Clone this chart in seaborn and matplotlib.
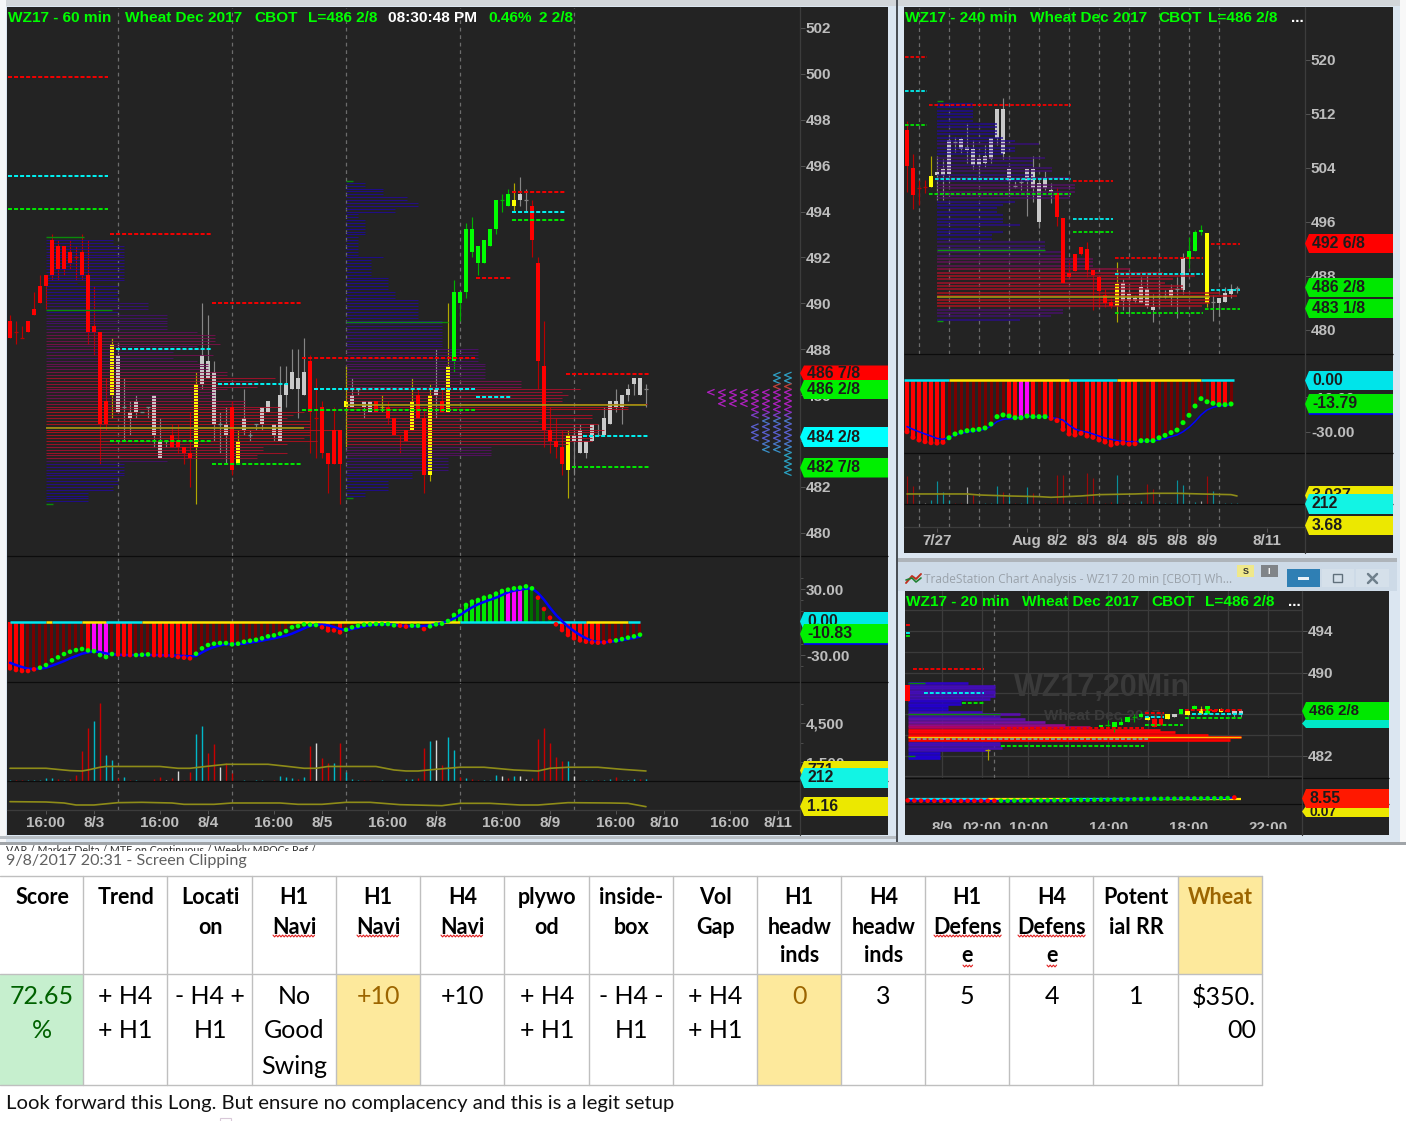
import numpy as np
import pandas as pd
import matplotlib
matplotlib.use("Agg")
import matplotlib.pyplot as plt
import matplotlib.path as mpath
from matplotlib.patches import Rectangle, Polygon
import seaborn as sns

W, H = 1406, 1121
DARK = "#232323"
sns.set_theme(style="dark", rc={"axes.facecolor": DARK, "axes.grid": False})
plt.rcParams["font.family"] = ["Liberation Sans", "DejaVu Sans"]

# ---------- 60 minute chart ----------
m_top = [489.25,488.75,488.5,489.25,489.75,490.75,491.25,492.75,492.5,492.5,492.25,492,492.25,491.25,489,488.75,485.75,488.25,487.75,485.5,485.25,485.75,485.25,485.5,486,484,484,484.25,484,483.75,483.5,486.5,487.75,487.5,487,484.75,484.75,485.5,484,485,484.25,484.75,485.5,485.75,484.75,486,486.5,487,486.75,487,487.5,485,485.5,483.5,484.5,484.5,485.75,
         486,486.25,485.75,485.75,485.75,485.5,485.5,485,484.25,484.5,485.75,486,485,486,486.25,485.75,487.25,490.5,490.5,493.25,493.25,492.5,492.75,493.25,494.5,494.5,494.75,494.5,494.75,494.5,494.25,491.75,487.25,484.5,484,483.75,484.25,484.25,484.5,484,484.75,484.25,485,485.75,485.75,486,486.25,486.75,486.75,486.25]
m_bot = [488.5,488.75,488.5,488.75,489.5,490,490.75,491.25,491.5,491.5,491.75,492,491.25,488.75,488.75,484.75,484.75,486,485.25,485.5,485,485.25,485.25,485.5,484.25,483.25,484,483.75,483.75,483.5,483.25,483.75,486.5,486.75,484.75,484.75,484.25,482.75,483,484.5,484.25,484.75,484.75,485.25,484.25,484,486,486.25,486.25,486,485.25,485,483.5,483,483,483,485.5,
         485.5,486.25,485.5,485.25,485.25,485.5,485,484.25,484.25,484,484.5,485,482.5,482.5,486,485.25,485.25,487.5,490,490.5,492.25,491.75,491.75,492.5,493.25,494.5,494.25,494.25,494.5,494.5,492.75,487.5,484.5,484,483.75,483,482.75,484,483.5,483.5,484,484.25,484.25,484.75,485.5,485.5,486,486.5,486,486.25]
m_high = [489.5,489.25,489,489.25,490.5,491.25,491.25,493,492.75,492.5,492.75,492.5,493,492.75,490.75,488.75,486.75,488.5,488.25,486.75,485.75,486,485.25,485.5,486,485,484,484.75,484.75,483.75,485.25,487,490,489.5,487.5,485.25,485.5,485.75,484.5,486.25,484.5,484.75,485.5,485.75,484.75,487.25,487.25,488,488,488.5,487.75,486.75,485.75,483.5,485.5,484.5,487.25,
          486.75,486.25,485.75,485.75,485.75,486,485.75,485,484.25,484.5,486.75,486.25,485.5,486.5,488,486.25,490,491,490.5,493.5,493.75,492.5,492.75,493.25,494.5,494.75,495,495.25,495.5,495,494.5,492,489.25,485.5,485,484.5,484.5,484.75,484.75,484,484.75,484.75,485.5,485.75,486.25,486,486.5,486.75,486.75,486.5]
m_low = [488.5,488.25,488.5,488.75,489.5,490,489.75,491,491,491.25,491.5,491,491,488.25,487.75,483,484.5,485,485.25,484,484.25,485,485.25,485,483.75,483.25,483.75,483.75,483.5,483,482,481.25,486.25,486.75,484,483.5,483,482.5,483,484.25,484,484.5,484.5,485.25,484,484,485.5,486.25,485,486,483.5,483.25,483.25,481.75,483,481.25,483.75,
         485.5,486,485,485.25,485.25,485.25,484.75,484.25,483.5,484,484.5,485,481.75,482.25,485,485.25,485.25,487,489.25,490.25,492,491.25,491.75,492.5,493,494,494.25,494,494.25,494,492,486.25,483.75,483.5,483.25,482.5,481.5,482.5,483.5,483.25,484,484.25,484.25,484.75,485.25,484.75,485.75,486,486,485.5]
m_kind = list("r"*17 + "y" + "w"*9 + "r"*4 + "y" + "w"*5 + "r" + "y" + "w"*11 + "r"*6 + "y" +
              "wwww" + "r" + "y" + "rrrr" + "y" + "rr" + "y" + "w" + "r" + "y" + "g"*10 + "y" + "ww" + "r"*6 + "y" + "w"*13)

p1_len = [11.1,11.1,13,13,13,13,13,13,13,13,13,13,13,13,13,5.1,12.05,12.05,12.05,12.05,12.05,12.05,17.05,17.05,17.05,12.05,20.1,20.1,20.1,20.1,20.1,20.1,25.1,28.1,28.1,28.1,29,25.1,27,21.2,27.9,21.2,25.1,27,27,27,30.1,30.1,38.2,35.1,35.1,35.1,30.1,28.1,28.1,28.1,33.2,33.2,39,35.7,43,41.1,40.1,44,44,44,49,44,44,43,45.1,40.1,36.2,36.2,40.1,35.1,35.1,20.1,13,13,13,13,13,12.05,12.05,12.05,11.1,11.1,7.05,7.05,7.05,7.05]
p2_len = [3.2,3.2,6.1,6.1,6.1,10.1,10.1,12.05,12.05,8.2,8.2,2.05,2.05,3.2,3.2,3.2,3.2,3.2,3.2,2.05,2.05,2.05,2.05,2.05,2.05,2.05,6.1,4.1,4.1,4.1,4.1,4.1,4.1,7.05,7.05,7.05,7.05,7.05,8.2,8.2,8.2,12.05,12.05,12.05,12.05,12.05,12.05,12.05,16.05,16.05,16.05,16.05,16.05,16.05,16.05,16.05,16.05,16.05,22,22,22,22,22,23.2,23.2,23.2,23.2,23.2,23.2,29.2,29.2,29.2,39,36.05,37.05,36.05,36.05,50.1,47.05,47.05,34,41.05,41.05,32.05,42.05,41.05,43.05,42.05,43.05,41.05,41.05,37.05,24.2,24.2,24.2,24.2,17.05,17.05,17.05,17.05,17.05,11.05,11.05,11.05,7.05,7.05,7.05,7.05,3.2,3.2]

m_lv_price = [499.86,495.55,494.11,493,488,484,490,486.5,483,487.6,486.25,485.35,491.1,485.9,494.85,494,493.65,486.9,484.2,482.85]
m_lv_start = [-.33,-.33,-.33,16.67,17.67,16.67,33.67,34.67,33.67,48.67,50.67,48.67,77.67,77.67,83.67,83.67,83.67,92.67,95.5,93.67]
m_lv_end = [16.33,16.33,16.33,33.5,33.5,33.5,48.5,46.33,48.5,77.5,77.5,77.5,83.5,83.5,92.5,92.5,92.5,106.5,106.5,106.5]
m_lv_kind = list("rcgrcgrcgrcgrcrcgrcg")

m_hist = [-42.1,-43.6,-44.5,-44.5,-43.0,-41.5,-39.1,-34.8,-32.1,-29.1,-27.0,-25.5,-24.5,-25.8,-26.4,-30.0,-31.8,-29.1,-29.4,-29.7,-30,-30,-29.7,-29.4,-30,-30.3,-30.3,-30.6,-31.8,-32.4,-33.0,-28.8,-23.9,-20.9,-19.7,-19.1,-19.1,-20.3,-19.7,-17.9,-17.0,-16.1,-14.8,-13.0,-12.1,-10.6,-8.2,-4.8,-3.6,-2.1,-2.4,-2.7,-4.8,-7.6,-7.6,-9.4,-7.0,-4.8,-3.3,-2.4,-2.1,-1.8,-1.8,-1.8,-3.0,
          -3.3,-4.2,-3.3,-3.3,-6.4,-3.9,-2.1,-1.5,0.9,6.4,10,15.5,18.5,20,22.1,23.3,25.8,28.2,29.4,30.6,31.2,32.4,30.6,22.1,11.8,3.9,-2.1,-7.3,-11.8,-14.8,-16.7,-17.9,-18.5,-18.8,-18.5,-17.3,-16.7,-15.5,-14.2,-13,-11.5]
m_avg = [-37,-39.1,-40.9,-42.4,-42.7,-42.4,-41.5,-39.7,-37.6,-35.5,-33,-30.9,-28.8,-27.6,-26.7,-27.3,-28.5,-29.4,-29.7,-30,-30,-30,-30,-30,-30,-30,-30.3,-30.3,-30.6,-30.9,-31.2,-30.9,-27.6,-24.8,-22.7,-21.2,-20.3,-20,-20,-19.7,-18.8,-17.9,-17,-15.8,-14.8,-13.6,-12.4,-10.6,-8.2,-5.8,-3.6,-2.4,-2.4,-3,-4.5,-6.4,-7.3,-6.4,-5.2,-3.9,-3,-2.4,-2.1,-2.1,-2.4,
         -3.3,-3.6,-3.9,-3.9,-3.6,-3,-2.1,-.9,.9,3.3,6.4,10,13.3,16.1,18.2,20.3,22.1,24.5,27,28.5,29.4,30.3,30.6,26.4,20.3,13,6.4,.9,-4.2,-8.2,-11.8,-14.8,-17.3,-17.9,-18.5,-17.9,-17.3,-16.4,-15.5,-14.5,-13.3]
m_hist_kind = list("RRR" + "D"*10 + "R" + "MMM" + "D" + "RRR" + "DDD" + "R"*7 + "D"*6 + "R" + "D"*14 + "RR" + "D" + "R" + "D"*18 + "G"*9 + "MMM" + "G" + "KKKK" + "R"*8 + "D"*7)
m_dot_kind = list("r"*5 + "g"*13 + "rrr" + "g"*3 + "r"*7 + "g"*21 + "r"*4 + "g"*9 + "rr" + "gg" + "r" + "g"*18 + "r"*13 + "g"*5)
m_zero_seg = [(0,6,"c"),(6,7,"y"),(7,12,"c"),(12,16,"y"),(16,22,"c"),(22,75,"y"),(75,96,"c"),(96,103,"y"),(103,105,"c")]

m_vol = [104,104,104,104,104,104,259,259,155,104,181,492,2357,4118,4714,6112,2046,1658,285,311,104,78,52,52,181,311,104,259,803,104,725,3678,4299,2227,2901,1140,1450,622,52,104,52,104,104,52,104,414,363,259,207,337,2745,2953,1813,1450,1450,2953,699,207,78,104,104,52,104,52,52,104,155,155,259,2590,3160,3212,1295,3471,2435,363,259,207,104,104,104,466,414,259,414,414,207,259,3315,4144,3004,1865,1554,1606,414,104,104,104,104,104,207,311,104,104,155,155,207]
m_vol_kind = list("crrccccc" "rc" "rrrrcrccrc" "rcrrrrwrwr" "rccrrwrrcc" "rccrrcccrc" "rwrrcrcccr" "rrcrr" "rccrrcwrcc" "rcrrcccwrc" "wwrrrrrrcw" "rccrccrccc" "rc")
m_vol_ma_x = [0,6,10,12,13,15,16,25,28,30,33,36,43,46,49,51,53,61,64,66,68,71,75,79,84,88,90,93,98,102,106]
m_vol_ma_y = [1010,1010,830,800,880,1090,1150,1150,1010,1010,1170,1320,1320,1170,1010,1010,1150,1150,880,800,800,932,1090,1090,880,800,1010,1090,1090,930,800]
m_ratio_x = [0,6,9,11,14,18,22,27,29,34,37,45,48,52,56,60,65,72,75,80,85,88,93,100,103,106]
m_ratio_y = [1.40,1.38,1.32,1.2,1.2,1.34,1.36,1.32,1.24,1.24,1.32,1.32,1.24,1.24,1.36,1.36,1.22,1.16,1.3,1.3,1.2,1.2,1.34,1.32,1.3,1.1]

tpo_price = [486.875,486.625,486.375,486.125,485.875,485.625,485.375,485.125,484.875,484.625,484.375,484.125,483.875,483.625,483.375,483.125,482.875,482.625]
tpo_count = [2,2,2,8,7,7,4,4,3,4,4,4,3,3,1,1,1,1]
tpo_hue = ["#2f9fc4","#2f9fc4","#c0403a","#b020c0","#b020c0","#b020c0","#a020c0","#7d40c8","#4a78c8","#5a60d0","#5a60d0","#5a60d0","#4a78c8","#3a90c8","#2aa0c0","#2aa0c0","#2aa0c0","#2aa0c0"]
m_time_pos = [6,14,25,33,44,52,63,71,82,90,101,109,120,128]
m_time_lab = ["16:00","8/3","16:00","8/4","16:00","8/5","16:00","8/8","16:00","8/9","16:00","8/10","16:00","8/11"]
m_days = [18,37,56,75,94]

# ---------- 240 minute chart ----------
r_top = [509.6,504,501.1,501.2,502.8,503.4,503.85,508.15,507.9,508.25,507.1,506.8,505.4,505.8,508.5,512.8,512.8,503.8,501.4,501.9,503.8,503.8,501.7,502.5,500.7,500.25,496.55,488.4,491.25,492.25,492,488.9,487.8,485.2,484.1,486.8,487,485.4,484.8,486.3,486,483.45,485,485,485.9,486.1,490.6,491.75,494.5,494.8,494.3,484.1,484.7,485.5,486,486.2]
r_bot = [504.3,500,501.1,501.2,501.2,503,503,503.06,507.9,506.8,506.7,504.45,504.45,504.8,505.4,508.5,506,502.1,501.4,501.9,502.1,501.1,495.95,501.1,500.5,496.8,487,487.9,488.8,491.25,488.9,488.2,485.8,483.95,483.55,483.55,484.35,484.35,484.3,484,483.55,483,485,485,484.9,486.1,485.9,490.55,491.75,494.5,484,484.1,484.05,484.2,485.4,486.2]
r_high = [511,506,502.2,502.2,505.8,505.8,505.4,508.9,508.6,508.6,510.6,508.15,506.2,507.4,508.5,512.8,514.3,503.8,502.1,502.5,503.8,505.8,502.5,503.5,501.7,501.2,496.55,490.4,491.25,492.25,493,488.9,487.8,486,484.8,490.1,487.5,486.4,485.2,487.9,488.15,485.4,487.4,485.9,486.8,487.9,491.35,493.7,494.8,495.55,494.3,485.2,484.7,486.4,486.8,486.5]
r_low = [500.5,497.9,498.5,500.25,501.2,499.2,499.2,501.7,506.3,506.2,504.7,503.8,502.6,504.1,504.8,507.4,505.4,500.15,501.1,500.7,496.9,499,495.05,500.8,498.75,495.45,487,487.9,488.8,491.1,487.9,483,483.45,483.35,483.2,481.2,483,482.5,484,484,483.2,481.2,483.45,484.8,483.55,481.7,485.3,489.15,491.75,494.1,483.45,481.4,482,484.2,484.7,485.55]
r_kind = list("rrrr" "y" + "w"*20 + "r"*10 + "y" + "w"*11 + "ggg" + "y" + "w"*5)
r_lv_price = [520.4,515.4,510.4,513.3,502.4,500.2,502.1,496.4,494.5,490.7,488.35,482.45,492.75,485.9,483.15]
r_lv_start = [-.33,-.33,-.33,3.67,4.67,3.67,27.67,27.67,27.67,34.67,34.67,34.67,50.67,50.67,49.67]
r_lv_end = [3.4,3.4,3.4,27.4,27.4,27.4,34.4,34.4,34.4,49.4,49.4,49.4,55.5,55.5,55.5]
r_lv_kind = list("rcg" "rcg" "rcg" "rcg" "rcg")
p3_len = [6.05,6.05,6.05,6.05,6.05,6.05,10.05,10.05,10.05,10.05,11.05,13,17.05,13,13,11.05,18.05,16.05,16.05,19.1,19.1,16.05,22.2,16.05,23,23,23,22.2,22.2,13,11.05,10.05,10.05,11.05,11.05,11.05,13.9,7.2,11.05,9.1,9.1,18.05,18.05,18.05,21.05,21.05,26.05,26.05,26.05,32.2,37.7,43,39.4,38,41.05,41.05,47.2,50,45.5,45.5,44.1,21.05,21.05,19,13.9]
r_hist = [-30,-33.3,-34.8,-35.8,-36.4,-36.6,-36.2,-33.5,-31.3,-30.2,-29.4,-29,-28.6,-27.8,-25.5,-21.2,-20.2,-20.8,-21.8,-21.8,-20.8,-21.2,-21.2,-21.2,-22.2,-23.5,-28.6,-31.3,-31.9,-30.9,-32.5,-33.3,-34.8,-36,-37.7,-36.8,-36.6,-37.2,-37,-35.2,-35.2,-35.2,-33.5,-32.1,-30.5,-29,-24.7,-20.4,-15,-10.7,-12.5,-13.4,-14.2,-14.2,-13.8]
r_avg = [-27,-28.6,-30,-31.3,-32.5,-33.9,-34.4,-33.3,-31.9,-30.9,-30.4,-29.8,-29.2,-28.6,-26.7,-24.1,-22.8,-22.4,-22.2,-21.6,-21.2,-21.2,-21.2,-21.2,-21.8,-22.2,-23.2,-26.1,-28.4,-29.6,-30.2,-31.3,-32.5,-33.7,-34.4,-35.2,-35.6,-35.8,-35.8,-35.8,-35.6,-35.4,-34.8,-33.9,-32.9,-31.9,-30,-27.4,-24.1,-20.2,-17.3,-15.8,-15,-14.8,-14.4]
r_hist_kind = list("R"*7 + "D"*10 + "RR" + "MM" + "R" + "D" + "RR" + "D" + "RRR" + "D" + "R"*5 + "D" + "RRR" + "DD" + "R" + "D"*9 + "RRR" + "D")
r_dot_kind = list("r"*7 + "g"*17 + "r"*15 + "g"*16)
r_zero_seg = [(-.5,7,"c"),(7,27,"y"),(27,35,"c"),(35,49,"y"),(49,54.5,"c")]
r_vol = [3400,2200,200,200,520,2800,1480,520,200,200,2120,1080,200,200,200,2200,1480,1000,120,200,2040,1320,200,120,200,3480,3480,200,200,200,3720,3120,200,120,320,3520,200,200,120,360,2440,1800,320,120,200,2920,2320,200,320,400,3400,1560,200,200,200,120]
r_vol_kind = list("rrcwccccrr" "wrccccrcrc" "crcrrrrccc" "rrcrrcrwcc" "rrcccccccw" "rccccc")
r_ma_x = [0,10,12,17,22,24,29,32,38,41,45,49,54,55]
r_ma_y = [1240,1240,1120,1000,920,840,1000,1160,1240,1320,1320,1240,1160,1000]
r_time_pos = [5,20,25,30,35,40,45,50,60]
r_time_lab = ["7/27","Aug","8/2","8/3","8/4","8/5","8/8","8/9","8/11"]
r_days = [2,7,12,17,22,27,32,37,42,47,52]

# ---------- 20 minute chart ----------
t_x = [-29,-17,0,1,2,3,4,5,6,7,8,9,10,11,12,13,14,15,16,17,18,19,20,21]
t_top = [488.8,482.5,485,485,485.2,485.2,485.7,485.7,486,485.7,485.5,485.5,486,486,486.5,486.3,486.8,486.5,486.75,486.4,486.5,486.4,486.3,486.3]
t_bot = [487.25,482.5,484.8,485,484.8,485,485.2,485.7,485.7,485.4,484.8,485,485.5,485.7,486,485.9,486.5,486,486,486.2,486.2,486.2,486,486]
t_high = [488.8,482.6,485,485.4,485.2,485.6,485.7,486,486.2,485.7,486,486,486,486,486.5,486.4,486.9,486.8,486.75,486.4,486.6,486.4,486.3,486.5]
t_low = [487.25,481.6,484.8,484.8,484.3,485,485.2,485.2,485.7,485.4,484.8,485,485.5,485.7,486,485.9,486.5,486,486,486.2,486.2,486.2,485.6,485.7]
t_kind = list("ry" "ggggggg" "yrrywgygygryrww")
p4_price = [489,488.75,488.5,488.25,488,487.75,487.5,487.25,487,486.75,486.5,486.25,486,485.75,485.5,485.25,485,484.75,484.5,484.25,484,483.75,483.5,483.25,483,482.75,482.5,482.25,482,481.75]
p4_end_px = [968,995,995,995,995,995,990,961,961,948,948,982,1020,1000,1025,1045,1065,1090,1160,1175,1208,1241,1230,1000,1000,1002,990,940,940,940]
t_lv_price = [490.37,488,487.1,484.66,483.6,482.93,494.6,493.8,493.5,486.4,485.6,486.0,486.07,485.75,485.0]
t_lv_start = [-28.2,-26.5,-20.8,-15,-28.5,-15,-29.3,-29.3,-29.3,12.6,12.6,13.6,6.6,6.6,6.6]
t_lv_end = [-17.6,-17.6,-17.6,6.5,7,6.5,-28.7,-28.7,-28.7,21.3,21.3,21.3,9.4,9.4,12.3]
t_lv_kind = list("rcgrwgrcg" "rgc" "rcg")
t_dots = [-8,-9,-9.5,-10,-10,-10.5,-10.5,-10.5,-10.5,-10,-10,-10,-10,-10,-9.5,-9.5,-9,-9,-8.5,-8,-8,-7.5,-7,-7,-6.5,-6,-6,-5.5,-5,-4.5,-4,-3.5,-3,-2,-1.5,-1,0,1,1,2,2,2.5,3,3,3,3.5,4,4,5,8.55]
t_dot_kind = list("r"*14 + "g"*35 + "r")
t_zero_seg = [(-29,-17,"c"),(-17,-5,"y"),(-5,9,"c"),(9,21,"y")]
t_time_pos = [-23.9,-17.9,-10.9,1.1,13.1,25]
t_time_lab = ["8/9","02:00","10:00","14:00","18:00","22:00"]

# ---------- notes table ----------
col_edges = [0,82.5,167,251.5,335.5,419.5,503.5,588.5,672.5,756.5,840.5,924.5,1008.5,1093,1177.5,1261.5]
headers = [["Score"],["Trend"],["Locati","on"],["H1","Navi"],["H1","Navi"],["H4","Navi"],["plywo","od"],["inside-","box"],["Vol","Gap"],["H1","headw","inds"],["H4","headw","inds"],["H1","Defens","e"],["H4","Defens","e"],["Potent","ial RR"],["Wheat"]]
body = [["72.65","%"],["+ H4","+ H1"],["- H4 +","H1"],["No","Good","Swing"],["+10"],["+10"],["+ H4","+ H1"],["- H4 -","H1"],["+ H4","+ H1"],["0"],["3"],["5"],["4"],["1"],["$350.","00"]]

CANDLE = {"r": "#ff0000", "y": "#ffff00", "w": "#c9c9c9", "g": "#00ff00"}
WICK = {"r": "#b80000", "y": "#b0a800", "w": "#858585", "g": "#00b000"}
LEVEL = {"r": "#f00000", "c": "#00eeee", "g": "#00e400", "w": "#909090"}
HIST = {"R": "#ff0000", "D": "#780000", "M": "#ff00ff", "G": "#00e800", "K": "#006c00"}
VOLC = {"r": "#c80000", "c": "#00b8c8", "w": "#d8d8d8"}
ZERO = {"c": "#00e8f0", "y": "#ffe800"}
OLIVE = "#8e8c18"
TICK = "#bdbdbd"
prof_pal = sns.blend_palette(["#1c0a96","#1e0a94","#260c90","#3e1072","#5c1060","#8a1040","#a8102c","#b01020","#b81018"], 101)
vivid_pal = sns.blend_palette(["#1800d8","#2400c8","#4a10b0","#7a10a0","#c00050","#ff0010","#ff0000","#ff0000"], 101)

fig = plt.figure(figsize=(W/100, H/100), dpi=100, facecolor="white")
bg = fig.add_axes([0, 0, 1, 1], zorder=0)
bg.set_xlim(0, W); bg.set_ylim(H, 0); bg.axis("off")
fg = fig.add_axes([0, 0, 1, 1], zorder=10)
fg.set_xlim(0, W); fg.set_ylim(H, 0); fg.axis("off"); fg.patch.set_alpha(0)

def rect(a, x0, y0, x1, y1, c, **kw):
    a.add_patch(Rectangle((x0, y0), x1-x0, y1-y0, facecolor=c, edgecolor="none", **kw))

rect(bg, 0, 0, W, 845, "#dbe6f1")
rect(bg, 0, 0, W, 6, "#d2d6da")
rect(bg, 0, 0, 6, 845, "#f4f6f8")
rect(bg, 1400, 0, W, 845, "#f8f8f8")
rect(bg, 7, 7, 888, 835, DARK)
rect(bg, 904, 7, 1393, 553, DARK)
rect(bg, 905, 591, 1389, 835, DARK)
rect(bg, 896, 0, 898, 845, "#4a4f55")
rect(bg, 898, 562, 1397, 591, "#cddae7")
rect(bg, 898, 558, 1397, 562, "#aeb4ba")
rect(bg, 0, 836, 896, 839, "#b8bec4")
rect(bg, 0, 842, W, 845, "#a0a4a8")

def axes_at(x0, y0, x1, y1, px0, step, ylim):
    ax = fig.add_axes([x0/W, 1-y1/H, (x1-x0)/W, (y1-y0)/H], zorder=2)
    ax.set_facecolor(DARK)
    for s in ax.spines.values():
        s.set_visible(False)
    ax.set_xlim((x0-px0)/step, (x1-px0)/step)
    ax.set_ylim(*ylim)
    ax.set_xticks([]); ax.set_yticks([])
    return ax

def right_ticks(ax, pos, labs, minor=None):
    ax.yaxis.tick_right()
    ax.set_yticks(pos); ax.set_yticklabels(labs, fontweight="bold", color=TICK, fontsize=11)
    ax.tick_params(axis="y", which="major", length=3.5, width=.7, color="#555555", pad=.8, right=True, labelright=True)
    if minor is not None:
        ax.set_yticks(minor, minor=True)
        ax.tick_params(axis="y", which="minor", length=2, width=.6, color="#555555", right=True)

def candles(ax, x, top, bot, high, low, kind, w=.78):
    x, top, bot, high, low = map(np.asarray, (x, top, bot, high, low))
    k = np.asarray(kind)
    ax.vlines(x, low, high, colors=[WICK[c] for c in kind], lw=.85, zorder=2)
    under = (k == "w") | (k == "y")
    # grey and yellow bars show the profile stripes across them, red and green stay solid
    ax.bar(x[under], (top-bot)[under], bottom=bot[under], width=w, color=[CANDLE[c] for c in k[under]], zorder=3, linewidth=0)
    ax.bar(x[~under], (top-bot)[~under], bottom=bot[~under], width=w, color=[CANDLE[c] for c in k[~under]], zorder=4.5, linewidth=0)
    flat = top == bot
    ax.hlines(top[flat], x[flat]-w/2, x[flat]+w/2, colors=[WICK[c] for c in k[flat]], lw=.9, zorder=4.5)

def profile(ax, start, price, length, pal, lw=.75, alpha=.88, zorder=4):
    length = np.asarray(length, float)
    c = [pal[int(100*v/length.max())] for v in length]
    ax.hlines(price, start, start+length, colors=c, lw=lw, alpha=alpha, zorder=zorder)

def levels(ax, price, start, end, kind, lw=1.45, z=5):
    ax.hlines(price, start, end, colors=[LEVEL[k] for k in kind], lw=lw, linestyles=[(0, (2, 1))], zorder=z)

def indicator(ax, hist, avg, hkind, dkind, zero, lw=1.8, dot=11):
    idx = np.arange(len(hist))
    widths = [.5 if k in "DK" else .68 for k in hkind]
    ax.bar(idx, hist, width=widths, color=[HIST[k] for k in hkind], linewidth=0, zorder=2)
    for a, b, k in zero:
        ax.hlines(0, a, b, colors=ZERO[k], lw=1.8, zorder=3)
    df = pd.DataFrame({"i": idx, "v": avg})
    sns.lineplot(data=df, x="i", y="v", color="#0000ff", lw=lw, ax=ax, legend=False, zorder=4)
    dd = pd.DataFrame({"i": idx, "v": hist, "k": dkind})
    sns.scatterplot(data=dd, x="i", y="v", hue="k", palette={"r": "#ff0000", "g": "#00ff00"}, s=dot,
                    linewidth=0, ax=ax, legend=False, zorder=5)
    ax.set_xlabel(""); ax.set_ylabel("")

def vlines_days(ax, days):
    for d in days:
        ax.axvline(d, color="#6c6c6c", lw=.9, ls=(0, (3, 3)), zorder=1)

# ---------- main panes ----------
a1 = axes_at(8, 8, 800, 556, 10, 6, (478.99, 502.87))
candles(a1, np.arange(len(m_top)), m_top, m_bot, m_high, m_low, m_kind)
profile(a1, 6, 492.75-.125*np.arange(len(p1_len)), p1_len, prof_pal)
profile(a1, 56, 495.25-.125*np.arange(len(p2_len)), p2_len, prof_pal)
levels(a1, m_lv_price, m_lv_start, m_lv_end, m_lv_kind)
a1.hlines([489.71, 492.88, 481.24, 489.17, 495.35, 481.5], [6, 6, 6, 56, 56, 56], [17.05, 12.3, 7.1, 73, 57.1, 57.1], colors="#0a8a0a", lw=1, zorder=5)
a1.hlines([484.55, 485.55], [6, 56], [49, 106], colors="#a6a412", lw=1.1, zorder=5)
vlines_days(a1, m_days)
chev = mpath.Path([(1, .82), (-1, 0), (1, -.82)], [1, 2, 2])
for pr, n, col in zip(tpo_price, tpo_count, tpo_hue):
    cols = 129.67 - 1.833*np.arange(n)
    a1.scatter(cols, np.full(n, pr), marker=chev, s=26, facecolors="none", edgecolors=col, linewidths=.9, zorder=6)
right_ticks(a1, np.arange(480, 503, 2), [str(v) for v in range(480, 503, 2)])

a2 = axes_at(8, 556, 800, 682, 10, 6, (-54.5, 60))
indicator(a2, m_hist, m_avg, m_hist_kind, m_dot_kind, m_zero_seg)
a2.set_xlim(-.333, 131.67); a2.set_ylim(-54.5, 60)
vlines_days(a2, m_days)
right_ticks(a2, [-30, 0, 30], ["-30.00", "0.00", "30.00"], minor=[-40, -20, -10, 10, 20, 40])

a3 = axes_at(8, 682, 800, 781.3, 10, 6, (0, 7705))
a3.vlines(np.arange(len(m_vol)), 0, m_vol, colors=[VOLC[k] for k in m_vol_kind], lw=1.0, zorder=2)
sns.lineplot(x=m_vol_ma_x, y=m_vol_ma_y, color=OLIVE, lw=1.2, ax=a3, legend=False, zorder=3)
a3.set_xlim(-.333, 131.67); a3.set_ylim(0, 7705)
vlines_days(a3, m_days)
right_ticks(a3, [1500, 4500], ["1,500", "4,500"], minor=[3000, 6000])

a4 = axes_at(8, 781.3, 800, 810, 10, 6, (.9, 2.62))
sns.lineplot(x=m_ratio_x, y=m_ratio_y, color=OLIVE, lw=1.2, ax=a4, legend=False, zorder=3)
a4.set_xlim(-.333, 131.67); a4.set_ylim(.9, 2.62)
vlines_days(a4, m_days)
a4.set_xticks(m_time_pos); a4.set_xticklabels(m_time_lab, fontweight="bold", color=TICK, fontsize=11)
a4.tick_params(axis="x", length=3, width=.7, color="#555555", pad=1.5, bottom=True)

# ---------- 240 minute panes ----------
b1 = axes_at(904, 8, 1305, 354, 907, 6, (476.44, 527.7))
candles(b1, np.arange(len(r_top)), r_top, r_bot, r_high, r_low, r_kind)
profile(b1, 5, 513.5-.5*np.arange(len(p3_len)), p3_len, prof_pal, lw=1.3, alpha=.8)
levels(b1, r_lv_price, r_lv_start, r_lv_end, r_lv_kind, lw=1.3)
b1.hlines([513.98, 491.85, 481.33], 5, [6, 23, 6], colors="#0a9a0a", lw=1, zorder=5)
b1.hlines(484.9, 5, 50.5, colors="#a6a412", lw=1.1, zorder=5)
vlines_days(b1, r_days)
right_ticks(b1, [480, 488, 496, 504, 512, 520], ["480", "488", "496", "504", "512", "520"])

b2 = axes_at(904, 354, 1305, 453, 907, 6, (-42.4, 15.35))
indicator(b2, r_hist, r_avg, r_hist_kind, r_dot_kind, r_zero_seg, lw=1.1, dot=13)
b2.set_xlim(-.5, 66.33); b2.set_ylim(-42.4, 15.35)
right_ticks(b2, [-30, -10], ["-30.00", "-10.00"])

b3 = axes_at(904, 453, 1305, 504.3, 907, 6, (0, 6156))
b3.vlines(np.arange(len(r_vol)), 0, r_vol, colors=[VOLC[k] for k in r_vol_kind], lw=.85, alpha=.72, zorder=2)
sns.lineplot(x=r_ma_x, y=r_ma_y, color=OLIVE, lw=1.2, ax=b3, legend=False, zorder=3)
b3.set_xlim(-.5, 66.33); b3.set_ylim(0, 6156)
vlines_days(b3, r_days)

b4 = axes_at(904, 504.3, 1305, 527, 907, 6, (0, 1))
vlines_days(b4, r_days)
b5 = axes_at(904, 527, 1305, 527.5, 907, 6, (0, 1))
b5.set_xticks(r_time_pos); b5.set_xticklabels(r_time_lab, fontweight="bold", color=TICK, fontsize=11)
b5.tick_params(axis="x", length=3, width=.7, color="#555555", pad=2, bottom=True)

# ---------- 20 minute panes ----------
c1 = axes_at(905, 591, 1302, 777.7, 1101, 6.667, (479.88, 497.85))
c1.grid(False)
for p in range(480, 498, 2):
    c1.axhline(p, color="#3b3b3b", lw=.9, zorder=0)
for k in [-23.9, -17.9, -11, -5, 1, 7, 13, 19, 25]:
    c1.axvline(k, color="#3b3b3b", lw=.9, zorder=0)
c1.axvline(-16, color="#6c6c6c", lw=.9, ls=(0, (3, 3)), zorder=1)
c1.text(.2, 488.5, "WZ17,20Min", color="#3a3a3a", fontsize=22, fontweight="bold", ha="center", va="center", zorder=1)
c1.text(.2, 485.8, "Wheat Dec 2017", color="#3a3a3a", fontsize=11, fontweight="bold", ha="center", va="center", zorder=1)
px2k = lambda v: (np.asarray(v, float)-1101)/6.667
profile(c1, px2k(908), p4_price, px2k(p4_end_px)-px2k(908), vivid_pal, lw=1.9, alpha=1, zorder=2)
c1.hlines(483.75, px2k(908), px2k(1241), colors="#ffc000", lw=1.0, zorder=3)
candles(c1, t_x, t_top, t_bot, t_high, t_low, t_kind, w=.72)
levels(c1, t_lv_price, t_lv_start, t_lv_end, t_lv_kind, lw=1.4)
c1.hlines([489.0, 486, 482.0], px2k(908), px2k([925, 1000, 915]), colors="#0a8a0a", lw=1, zorder=4)
c1.yaxis.tick_right()
right_ticks(c1, [482, 490, 494], ["482", "490", "494"])

c2 = axes_at(905, 777.7, 1302, 804, 1101, 6.667, (-28.5, 121))
t_k = np.arange(len(t_dots))-29
for a, b, k in t_zero_seg:
    c2.hlines(0, a, b, colors=ZERO[k], lw=1.6, zorder=2)
sns.lineplot(x=t_k, y=t_dots, color="#0000ff", lw=1.4, ax=c2, legend=False, zorder=3)
sns.scatterplot(x=t_k, y=t_dots, hue=t_dot_kind, palette={"r": "#ff0000", "g": "#00e800"}, s=11, linewidth=0, ax=c2, legend=False, zorder=4)
c2.set_xlim(-29.4, 30.15); c2.set_ylim(-28.5, 121)
c2.set_xticks([]); c2.set_yticks([])

c3 = axes_at(905, 804, 1302, 835, 1101, 6.667, (835, 804))
for k, lab in zip(t_time_pos, t_time_lab):
    c3.text(k, 828.5, lab, color=TICK, fontsize=11, fontweight="bold", ha="center", va="center", clip_on=True)
c3.add_patch(Rectangle((-30, 829), 61, 7, facecolor=DARK, edgecolor="none", zorder=5))

# ---------- separators ----------
for x0, x1, y in [(7, 888, 556), (7, 888, 682), (7, 888, 781.3), (904, 1393, 354), (904, 1393, 453), (904, 1393, 504.3), (905, 1389, 777.7), (905, 1389, 804)]:
    fg.plot([x0, x1], [y, y], color="#0c0c0c", lw=.9, solid_capstyle="butt")
for x0, x1, y in [(7, 800, 810), (904, 1305, 527)]:
    fg.plot([x0, x1], [y, y], color="#3c3c3c", lw=.9)
for x, y0, y1 in [(800, 7, 835), (1305, 7, 553), (1302, 591, 835)]:
    fg.plot([x, x], [y0, y1], color="#3c3c3c", lw=.9)

# ---------- value flags ----------
flag_z = [20.0]
def flag(x0, x1, y0, y1, col, txt, edge=None, size=11.4):
    z = flag_z[0]
    flag_z[0] += 1
    yc = (y0+y1)/2
    fg.add_patch(Polygon([(x0, yc), (x0+4, y0), (x1, y0), (x1, y1), (x0+4, y1)], closed=True, facecolor=col, edgecolor="none", zorder=z))
    if edge:
        fg.plot([x0+4, x1], [y1, y1], color=edge, lw=1.2, solid_capstyle="butt", zorder=z+.2)
    if txt:
        fg.text(x0+7, yc, txt, color="#1c1c1c", fontsize=size, fontweight="bold", va="center", ha="left", zorder=z+.5)

flag(800, 888, 365.5, 381, "#ff0000", "486 7/8")
flag(800, 888, 380, 399, "#00f000", "486 2/8")
flag(800, 888, 427, 447, "#00ffff", "484 2/8")
flag(800, 888, 458, 477.5, "#00f000", "482 7/8")
flag(800, 888, 612, 631, "#00e8e8", "0.00")
flag(800, 888, 624, 644, "#00f000", "-10.83", edge="#0000ff")
flag(800, 888, 761, 780, "#ece800", "771")
flag(800, 888, 768, 788, "#12f4e4", "212")
flag(800, 888, 797, 816, "#ece800", "1.16")

flag(1305, 1393, 234, 253, "#ff0000", "492 6/8")
flag(1305, 1393, 278, 297, "#00e800", "486 2/8")
flag(1305, 1393, 299, 318, "#00e800", "483 1/8")
flag(1305, 1393, 371, 390, "#00e4ea", "0.00")
flag(1305, 1393, 394, 414, "#00e400", "-13.79", edge="#0000ff")
flag(1305, 1393, 486, 505, "#ece800", "3,037")
flag(1305, 1393, 494, 514, "#12f4e4", "212")
flag(1305, 1393, 516, 535, "#ece800", "3.68")

flag(1302, 1389, 719, 728, "#00e8c8", "")
flag(1302, 1389, 702, 720, "#00e800", "486 2/8", size=10.8)
flag(1302, 1389, 806, 817, "#ece800", "0.07", size=10)
flag(1302, 1389, 789, 808, "#ff1800", "8.55")

# ---------- chart titles ----------
GREEN = "#00ff00"
def title(y, items, size=11.1):
    for x, s, c in items:
        fg.text(x, y, s, color=c, fontsize=size, fontweight="bold", va="center", ha="left")

title(18, [(8, "WZ17 - 60 min", GREEN), (125, "Wheat Dec 2017", GREEN), (254, "CBOT", GREEN), (308, "L=486 2/8", GREEN),
           (388, "08:30:48 PM", "#ffffff"), (488, "0.46%", GREEN), (539, "2 2/8", GREEN)])
title(18, [(905, "WZ17 - 240 min", GREEN), (1030, "Wheat Dec 2017", GREEN), (1158, "CBOT", GREEN), (1208, "L=486 2/8", GREEN), (1291, "...", "#ffffff")])
title(602, [(906, "WZ17 - 20 min", GREEN), (1022, "Wheat Dec 2017", GREEN), (1151, "CBOT", GREEN), (1205, "L=486 2/8", GREEN), (1288, "...", "#ffffff")])

# ---------- window title bar ----------
fg.text(924, 579, "TradeStation Chart Analysis - WZ17 20 min [CBOT] Wh...", color="#9aa2aa", fontsize=8.6, va="center", family=["Open Sans", "DejaVu Sans"])
fg.plot([906, 912, 916, 921], [583, 576, 579, 574], color="#c03020", lw=1.4)
fg.plot([906, 912, 916, 921], [580, 578, 582, 578], color="#208030", lw=1.2)
rect(fg, 1237, 565, 1254, 577, "#efe88a")
fg.text(1246, 571, "S", color="#333333", fontsize=6.5, fontweight="bold", ha="center", va="center")
rect(fg, 1261, 565, 1278, 577, "#808488")
fg.text(1269, 571, "I", color="#ffffff", fontsize=6.5, fontweight="bold", ha="center", va="center")
rect(fg, 1287, 569, 1320, 587, "#2f7fb4")
rect(fg, 1298, 577, 1309, 580, "#eaf2f8")
rect(fg, 1322, 569, 1354, 587, "#d5e0ea")
fg.add_patch(Rectangle((1333, 574), 9, 8, facecolor="none", edgecolor="#60707c", lw=1))
rect(fg, 1356, 569, 1389, 587, "#d5e0ea")
fg.plot([1368, 1377], [574, 583], color="#70808c", lw=1.8)
fg.plot([1368, 1377], [583, 574], color="#70808c", lw=1.8)

# ---------- note page ----------
NOTE = ["Lato", "DejaVu Sans"]
fg.text(6, 851, "VAR / Market Delta / MTF on Continuous / Weekly MPOCs Ref /", color="#303030", fontsize=7.7, va="center", family=NOTE, zorder=2)
rect(fg, 0, 851, W, H, "#ffffff", zorder=2.5)
fg.text(6, 861, "9/8/2017 20:31 - Screen Clipping", color="#606060", fontsize=11.6, va="center", family=NOTE)
fg.text(6, 1103.5, "Look forward this Long. But ensure no complacency and this is a legit setup", color="#111111", fontsize=14.62, va="center", family=NOTE)

rect(fg, col_edges[0], 973.5, col_edges[1], 1085, "#c6efce", zorder=2.6)
for i in [4, 9]:
    rect(fg, col_edges[i], 973.5, col_edges[i+1], 1085, "#fde99c", zorder=2.6)
rect(fg, col_edges[14], 875.5, col_edges[15], 973.5, "#fde99c", zorder=2.6)
for x in col_edges[1:]:
    fg.plot([x, x], [875.5, 1085], color="#bfbfbf", lw=1, zorder=2.7)
for y in [875.5, 973.5, 1085]:
    fg.plot([0, col_edges[-1]], [y, y], color="#bfbfbf", lw=1, zorder=2.7)

head_y = [897, 927, 956]
body_y = [996.5, 1030.5, 1066]
for i, lines in enumerate(headers):
    xc = (col_edges[i]+col_edges[i+1])/2 + .8
    c = "#9c6500" if i == 14 else "#000000"
    for y, s in zip(head_y, lines):
        fg.text(xc, y, s, color=c, fontsize=15.5, fontweight="bold", ha="center", va="center", family=NOTE)
for i, lines in enumerate(body):
    xc = (col_edges[i]+col_edges[i+1])/2 + .8
    c = "#006100" if i == 0 else ("#9c6500" if i in (4, 9) else "#000000")
    for y, s in zip(body_y, lines):
        if i == 14:
            fg.text(1256, y, s, color=c, fontsize=18, ha="right", va="center", family=NOTE)
        else:
            fg.text(xc, y, s, color=c, fontsize=18, ha="center", va="center", family=NOTE)

def squiggle(x0, x1, y):
    xs = np.arange(x0, x1+.1, 1.6)
    ys = y + np.where(np.arange(len(xs)) % 2 == 0, -.9, .9)
    fg.plot(xs, ys, color="#e02020", lw=.8, zorder=3)

for x0, x1 in [(273, 315), (357, 399), (441, 483), (934, 1002), (1018, 1086)]:
    squiggle(x0, x1, 936)
for x0, x1 in [(963, 973), (1047, 1057)]:
    squiggle(x0, x1, 966)
fg.add_patch(Rectangle((220, 1118), 11, 4, facecolor="none", edgecolor="#d8c8d8", lw=.8, zorder=3))

fig.savefig("out.png", dpi=100, facecolor="white")
